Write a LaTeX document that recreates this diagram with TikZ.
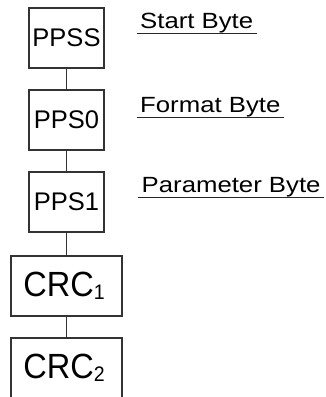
\documentclass[tikz,border=0pt]{standalone}
\usepackage{fontspec}
\setmainfont{Liberation Sans}
\newfontfamily\labfont[FakeStretch=1.17]{Liberation Sans}
\newfontfamily\crcfont[FakeStretch=0.93]{Liberation Sans}
\begin{document}
\begin{tikzpicture}[x=1pt,y=-1pt,
  box/.style={draw=black!80, line width=1.2pt, minimum width=75pt, minimum height=60pt, inner sep=0pt,
    font=\fontsize{25.5}{26}\selectfont},
  wbox/.style={box, minimum width=111pt, font=\crcfont\fontsize{35}{36}\selectfont},
  link/.style={draw=black!80, line width=1.2pt},
  lab/.style={anchor=base west, inner xsep=3.5pt, inner ysep=0.4pt, font=\labfont\fontsize{22}{24}\selectfont},
  uline/.style={draw=black!85, line width=1.2pt}]
\useasboundingbox (0,0) rectangle (326,397);
\clip (0,0) rectangle (326,397);
\node[box] (ppss) at (66.5,38) {PPSS};
\node[box] (pps0) at (66.5,120) {PPS0};
\node[box] (pps1) at (66.5,202) {PPS1};
\node[wbox] (crc1) at (66.5,286) {CRC\raisebox{-3pt}{\fontsize{21}{21}\selectfont 1}\kern5pt};
\node[wbox] (crc2) at (66.5,368) {CRC\raisebox{-3pt}{\fontsize{21}{21}\selectfont 2}\kern5pt};
\draw[link] (ppss.south) -- (pps0.north);
\draw[link] (pps0.south) -- (pps1.north);
\draw[link] (pps1.south) -- (crc1.north);
\draw[link] (crc1.south) -- (crc2.north);
\node[lab] (l1) at (136.5,28.3) {Start Byte};
\node[lab] (l2) at (136.5,112) {Format Byte};
\node[lab] (l3) at (138,192.5) {Parameter Byte};
\draw[uline] (l1.south west) -- (l1.south east);
\draw[uline] (l2.south west) -- (l2.south east);
\draw[uline] (l3.south west) -- (l3.south east);
\end{tikzpicture}
\end{document}
